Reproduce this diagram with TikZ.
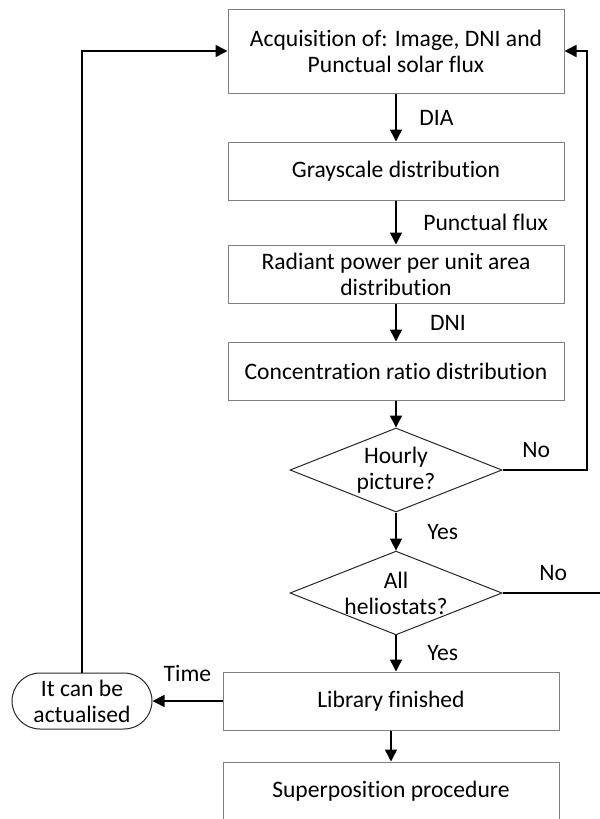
\documentclass[tikz,border=0pt]{standalone}
\usepackage{fontspec}
\setmainfont{Carlito}[Ligatures=NoCommon]
\usetikzlibrary{shapes.geometric,arrows.meta}

\begin{document}
\begin{tikzpicture}[x=0.75pt, y=-0.75pt,
  every node/.style={font=\fontsize{17.7}{19.5}\selectfont},
  box/.style={draw=gray, line width=0.75pt, minimum width=252pt, minimum height=43.5pt, align=center, inner sep=0},
  decision/.style={draw=black!85, diamond, aspect=2.5, line width=0.75pt, minimum width=159pt, minimum height=63pt, align=center, inner sep=0},
  term/.style={draw=black!85, line width=0.75pt, rounded corners=21pt, minimum width=105pt, minimum height=42pt, align=center, inner sep=0},
  flow/.style={-{Triangle[length=9pt,width=9pt]}, line width=1.1pt},
  lbl/.style={inner sep=0}]
  \useasboundingbox (0,0) rectangle (600,819);

  % Main column of steps.
  \node[box, minimum height=63pt] (acq) at (396,51) {Acquisition of: Image, DNI and\\Punctual solar flux};
  \node[box] (gray) at (396,171) {Grayscale distribution};
  \node[box] (rad) at (396,274) {Radiant power per unit area\\distribution};
  \node[box] (conc) at (396,371) {Concentration ratio distribution};
  % Decisions.
  \node[decision] (hourly) at (396,470) {Hourly\\picture?};
  \node[decision, minimum height=61.5pt] (all) at (396,593) {All\\heliostats?};
  % End of the loop.
  \node[box] (lib) at (391,701) {Library finished};
  \node[box] (sup) at (391,791) {Superposition procedure};
  % Side terminal.
  \node[term] (act) at (82,701) {It can be\\actualised};

  % Turning points of the loops.
  \coordinate (rturn) at (587,470);
  \coordinate (edge) at (600,593);

  % Downward flow.
  \draw[flow] (acq) -- node[lbl, right=17pt] (dia) {DIA} (gray);
  \draw[flow] (gray) -- node[lbl, right=20pt] (pflux) {Punctual flux} (rad);
  \draw[flow] (rad) -- node[lbl, right=25pt] (dni) {DNI} (conc);
  \draw[flow] (conc) -- (hourly);
  \draw[flow] (hourly) -- node[lbl, right=23pt] (yes1) {Yes} (all);
  \draw[flow] (all.south) -- node[lbl, right=23pt] (yes2) {Yes} (all.south |- lib.north);
  \draw[flow] (lib) -- (sup);

  % No: back to the acquisition.
  \draw[flow] (hourly.east) -- node[lbl, pos=0.4, above=9pt] (no1) {No} (rturn) |- (acq.east);
  % No: leaves the picture.
  \draw[line width=1.1pt] (all.east) -- node[lbl, pos=0.52, above=8.5pt] (no2) {No} (edge);

  % Time: library can be actualised.
  \draw[flow] (lib.west) -- node[lbl, above=14pt] (time) {Time} (act.east);
  \draw[flow] (act.north) |- (acq.west);
\end{tikzpicture}
\end{document}
